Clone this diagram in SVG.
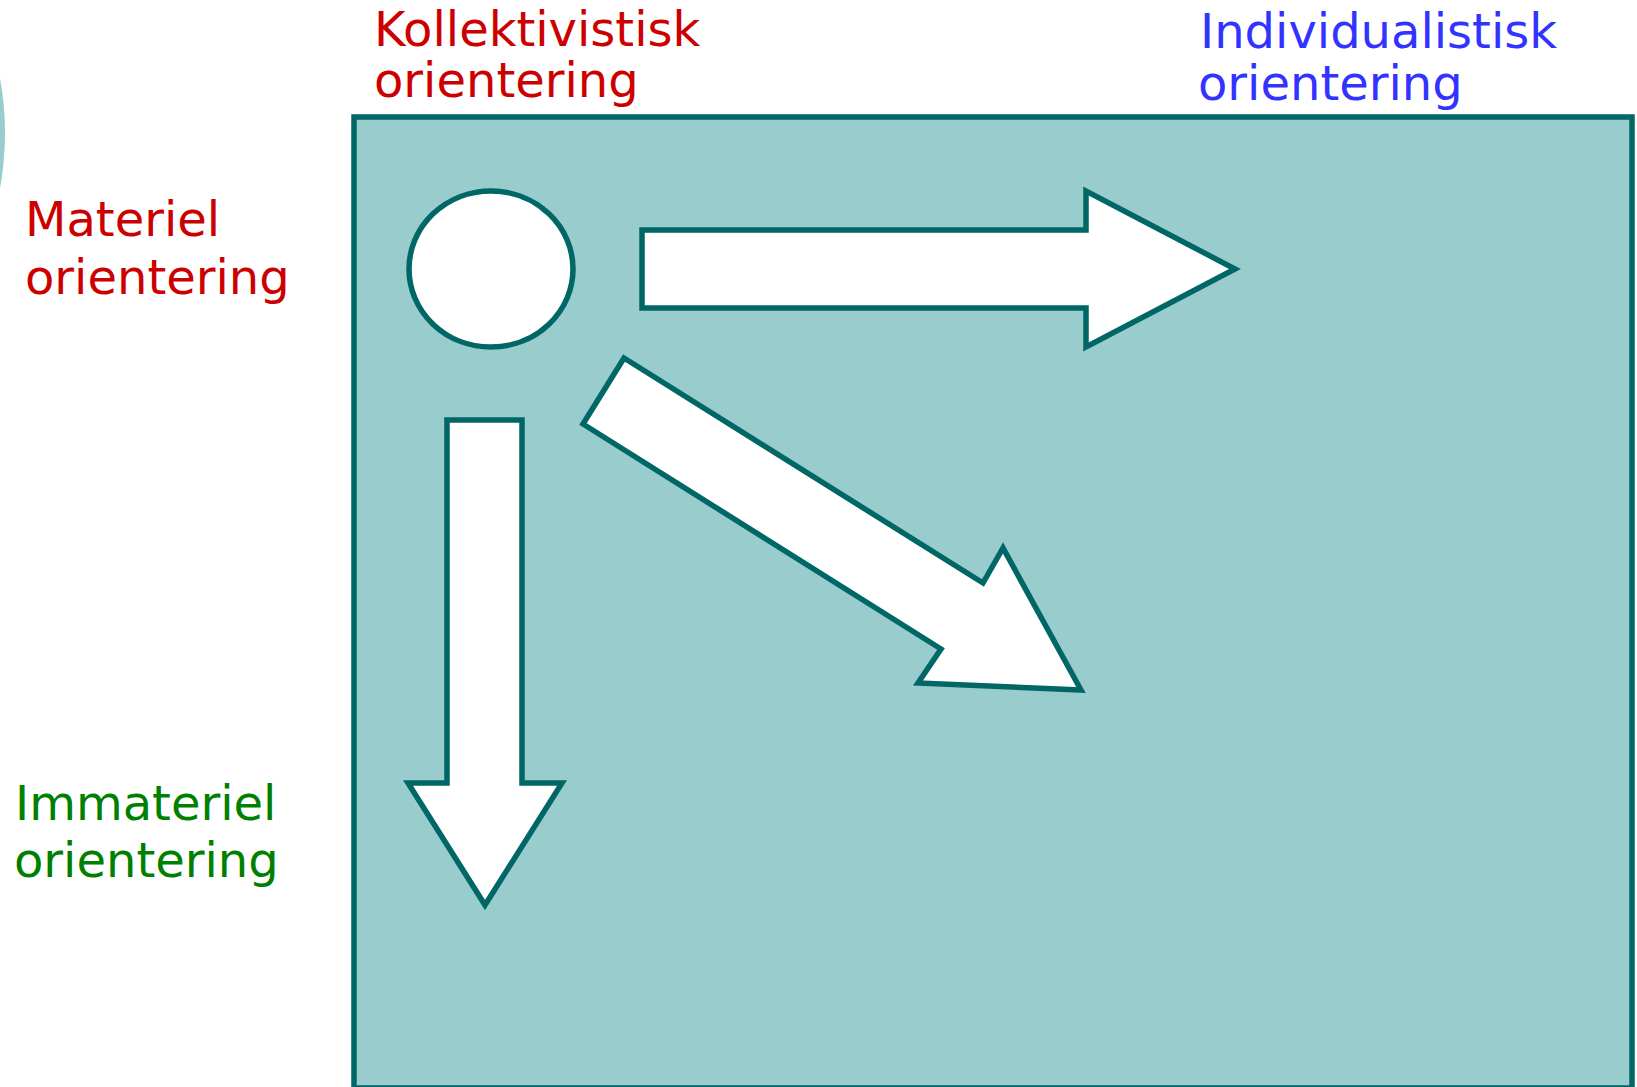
<svg xmlns="http://www.w3.org/2000/svg" width="1637" height="1087" viewBox="0 0 1637 1087">
<style>
.shape{fill:#FFFFFF;stroke:#006666;stroke-width:5.5;stroke-linejoin:miter}
.lbl{font-family:"DejaVu Sans",Verdana,sans-serif;font-size:48px}
.red{fill:#CC0000}
.blue{fill:#3333FF}
.green{fill:#008000}
</style>
<rect width="1637" height="1087" fill="#FFFFFF"/>
<circle cx="-300" cy="133" r="305" fill="#99CCCC"/>
<g id="frame">
<rect x="354" y="117" width="1278" height="971" fill="#99CCCC" stroke="#006666" stroke-width="5.5"/>
</g>
<g id="origin">
<ellipse class="shape" cx="491" cy="269" rx="82" ry="78"/>
</g>
<g id="connectors">
<polygon class="shape" points="642,230 1086,230 1086,191 1235,269 1086,347 1086,308 642,308"/>
<polygon class="shape" points="447,420 522,420 522,783 562,783 485,905 408,783 447,783"/>
<polygon class="shape" points="624,358 983,583 1003,548 1081,690 918,683 941,649 583,424"/>
</g>
<g id="label-kollektivistisk">
<text class="lbl red" x="374" y="46">Kollektivistisk</text>
<text class="lbl red" x="374" y="97">orientering</text>
</g>
<g id="label-individualistisk">
<text class="lbl blue" x="1200" y="48">Individualistisk</text>
<text class="lbl blue" x="1198" y="100">orientering</text>
</g>
<g id="label-materiel">
<text class="lbl red" x="25" y="236">Materiel</text>
<text class="lbl red" x="25" y="294">orientering</text>
</g>
<g id="label-immateriel">
<text class="lbl green" x="15" y="820">Immateriel</text>
<text class="lbl green" x="14" y="877">orientering</text>
</g>
</svg>
